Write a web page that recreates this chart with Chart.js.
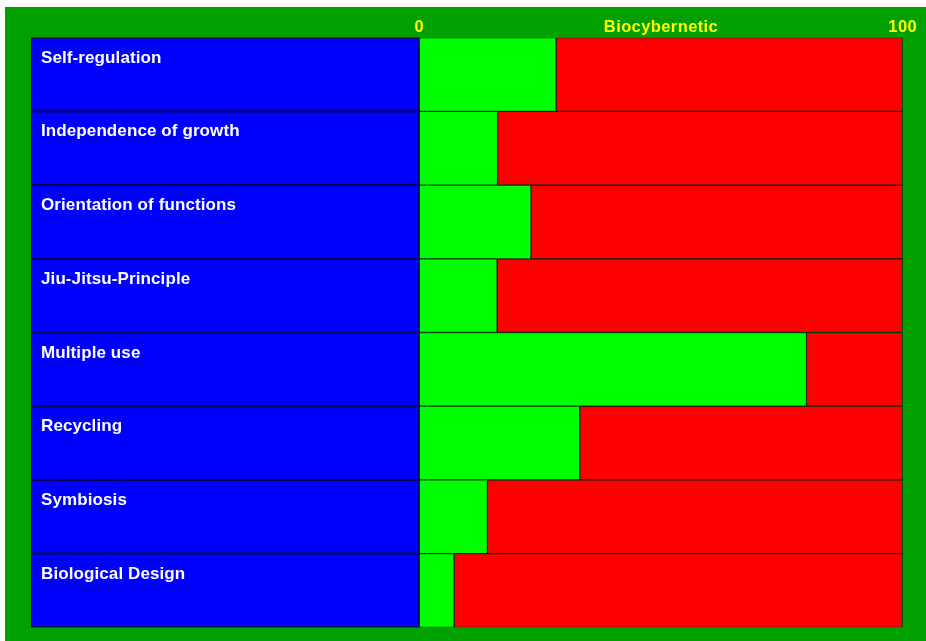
<!DOCTYPE html>
<html>
<head>
<meta charset="utf-8">
<script src="https://cdn.jsdelivr.net/npm/chart.js@4"></script>
<style>
  html, body { margin: 0; padding: 0; background: #fff; }
  #wrap { position: absolute; left: 5px; top: 7px; width: 921px; height: 634px; background: #00a000; }
</style>
</head>
<body>
<div id="wrap"><canvas id="chart"></canvas></div>
<script>
const categories = ['Self-regulation', 'Independence of growth', 'Orientation of functions',
  'Jiu-Jitsu-Principle', 'Multiple use', 'Recycling', 'Symbiosis', 'Biological Design'];
const biocyberneticValues = [28.3, 16.2, 23.1, 16.1, 80.1, 33.2, 14.1, 7.2];
const axisMax = 100;
const headerTicks = [0, 50, 100];
const headerLabels = ['0', 'Biocybernetic', '100'];

const restValues = biocyberneticValues.map(v => axisMax - v);

// blue label cells on the left + header text on top
const labelCells = {
  id: 'labelCells',
  beforeDatasetsDraw(chart) {
    const { ctx, chartArea, scales } = chart;
    const y = scales.y, x = scales.x;
    const left = 26;
    const rowH = (chartArea.bottom - chartArea.top) / categories.length;
    ctx.save();
    categories.forEach((name, i) => {
      const cy = y.getPixelForValue(i);
      const top = cy - rowH / 2;
      ctx.fillStyle = '#0000ff';
      ctx.fillRect(left, top, chartArea.left - left, rowH);
      ctx.strokeStyle = 'rgba(0,0,0,0.75)';
      ctx.lineWidth = 1;
      ctx.strokeRect(left + 0.5, top + 0.5, chartArea.left - left - 1, rowH - 1);
      ctx.fillStyle = '#ffffff';
      ctx.font = 'bold 17px "Liberation Sans", Arial, sans-serif';
      ctx.letterSpacing = '0.1px';
      ctx.textAlign = 'left';
      ctx.textBaseline = 'alphabetic';
      ctx.fillText(name, 36, top + 25);
    });
    ctx.fillStyle = '#ffff00';
    ctx.font = 'bold 16.5px "Liberation Sans", Arial, sans-serif';
    ctx.letterSpacing = '0.4px';
    ctx.textAlign = 'center';
    headerTicks.forEach((t, i) => {
      ctx.fillText(headerLabels[i], x.getPixelForValue(t), chartArea.top - 6);
    });
    ctx.restore();
  }
};

new Chart(document.getElementById('chart').getContext('2d'), {
  type: 'bar',
  data: {
    labels: categories,
    datasets: [
      { label: 'Biocybernetic', data: biocyberneticValues, backgroundColor: '#00ff00',
        borderColor: 'rgba(0,0,0,0.6)', borderWidth: 1, borderSkipped: false },
      { label: 'Rest', data: restValues, backgroundColor: '#ff0000',
        borderColor: 'rgba(0,0,0,0.75)', borderWidth: 1, borderSkipped: false }
    ]
  },
  options: {
    indexAxis: 'y',
    responsive: true,
    maintainAspectRatio: false,
    animation: false,
    layout: { padding: { left: 414.3, right: 23.3, top: 30.7, bottom: 13.7 } },
    datasets: { bar: { barPercentage: 1, categoryPercentage: 1 } },
    plugins: { legend: { display: false }, tooltip: { enabled: false } },
    scales: {
      x: { display: false, stacked: true, min: 0, max: axisMax },
      y: { display: false, stacked: true }
    }
  },
  plugins: [labelCells]
});
</script>
</body>
</html>
